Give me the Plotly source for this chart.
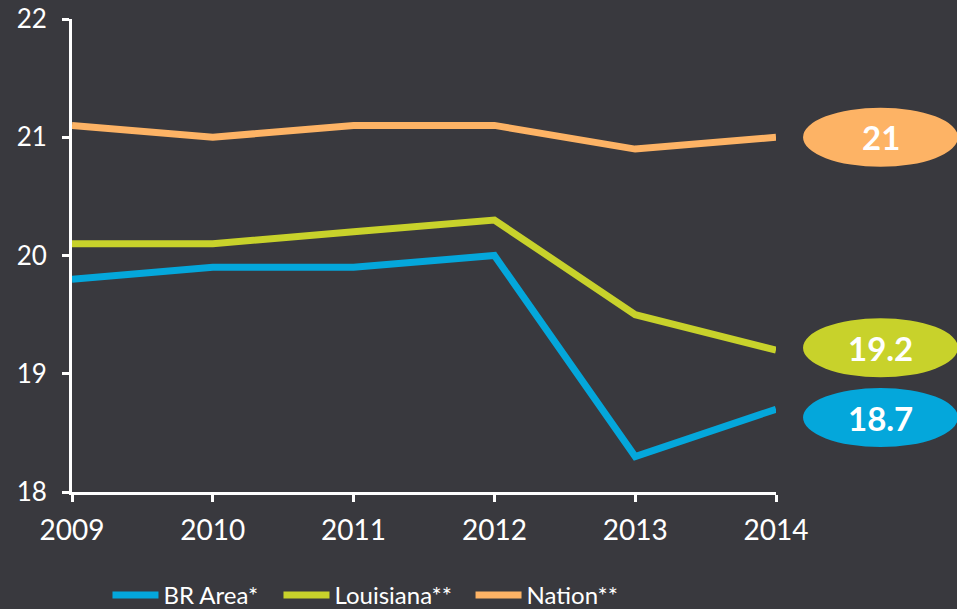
import plotly.graph_objects as go

years = [2009, 2010, 2011, 2012, 2013, 2014]
br_area = [19.8, 19.9, 19.9, 20.0, 18.3, 18.7]
louisiana = [20.1, 20.1, 20.2, 20.3, 19.5, 19.2]
nation = [21.1, 21.0, 21.1, 21.1, 20.9, 21.0]

series = [
    ("BR Area*", br_area, "#04a7db"),
    ("Louisiana**", louisiana, "#c8d22b"),
    ("Nation**", nation, "#fdb365"),
]

label_text = ["18.7", "19.2", "21"]
label_offset = [-0.07, 0.02, 0.0]  # small vertical nudge to avoid overlap

legend_ids = ["legend", "legend2", "legend3"]
legend_x = [0.0504, 0.2933, 0.5661]

bg = "#39393e"
font_family = "Lato, 'Open Sans', sans-serif"

fig = go.Figure()
for (name, vals, col), lid in zip(series, legend_ids):
    fig.add_trace(go.Scatter(
        x=years, y=vals, name=name, mode="lines",
        line=dict(color=col, width=7), legend=lid,
    ))

shapes = []
annotations = []
for (name, vals, col), txt, off in zip(series, label_text, label_offset):
    yc = vals[-1] + off
    shapes.append(dict(
        type="circle", xref="paper", yref="y",
        x0=1.0384, x1=1.2585, y0=yc - 0.25, y1=yc + 0.25,
        fillcolor=col, line=dict(width=0), layer="above",
    ))
    annotations.append(dict(
        xref="paper", yref="y", x=1.1485, y=yc, text="<b>%s</b>" % txt,
        showarrow=False, font=dict(color="white", size=33, family=font_family),
        xanchor="center", yanchor="middle",
    ))

legend_common = dict(
    orientation="h", y=-0.171, xanchor="left", yanchor="top",
    font=dict(size=24, color="white"), bgcolor="rgba(0,0,0,0)",
    itemwidth=46,
)
legends = {lid: dict(legend_common, x=lx) for lid, lx in zip(legend_ids, legend_x)}

fig.update_layout(
    width=957, height=609,
    margin=dict(l=72, r=181, t=19, b=117, autoexpand=False),
    paper_bgcolor=bg, plot_bgcolor=bg,
    font=dict(family=font_family, color="white", size=25),
    shapes=shapes, annotations=annotations,
    showlegend=True,
    xaxis=dict(
        range=[2009, 2014], tickvals=years, ticktext=[str(y) for y in years],
        showgrid=False, zeroline=False, showline=True, linecolor="white",
        linewidth=3, ticks="outside", ticklen=7, tickwidth=3, tickcolor="white",
        tickfont=dict(size=28, color="white"), ticklabelstandoff=4,
    ),
    yaxis=dict(
        range=[18, 22], tickvals=[18, 19, 20, 21, 22],
        showgrid=False, zeroline=False, showline=True, linecolor="white",
        linewidth=3, ticks="outside", ticklen=7, tickwidth=3, tickcolor="white",
        tickfont=dict(size=26, color="white"), ticklabelstandoff=10,
    ),
    **legends,
)

fig.write_html(
    "out.html",
    config={"displayModeBar": False},
    post_script="document.body.style.margin='0';document.body.style.background='%s';" % bg,
)
